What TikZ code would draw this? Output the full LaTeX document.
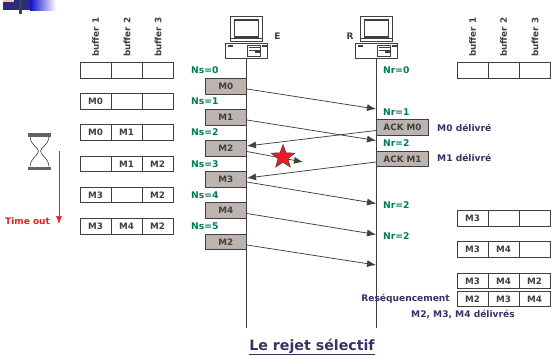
\documentclass[tikz,border=0pt]{standalone}
\usepackage{fontspec}
\setmainfont{DejaVu Sans}
\usetikzlibrary{arrows.meta,shapes.geometric}
\definecolor{ink}{HTML}{404040}
\definecolor{grn}{HTML}{007A55}
\definecolor{navy}{HTML}{333366}
\definecolor{rd}{HTML}{EE1C25}
\definecolor{msg}{HTML}{BDB3AF}
\tikzset{
  cell/.style={draw=ink,line width=.8pt,minimum width=31pt,minimum height=15.5pt,inner sep=0pt,text=ink,font=\bfseries\fontsize{8.8}{9}\selectfont},
  msgbox/.style={draw=ink,line width=.9pt,fill=msg,minimum width=41.5pt,minimum height=15.5pt,inner sep=0pt,text=ink,font=\bfseries\fontsize{8.8}{9}\selectfont},
  ackbox/.style={msgbox,minimum width=52pt},
  seq/.style={text=grn,font=\bfseries\fontsize{9.2}{9}\selectfont,anchor=west,inner sep=0pt},
  note/.style={text=navy,font=\bfseries\fontsize{9.1}{9}\selectfont,anchor=west,inner sep=0pt},
  buf/.style={rotate=90,anchor=west,text=ink,inner sep=0pt,font=\bfseries\fontsize{8.8}{9}\selectfont},
  msgarrow/.style={draw=ink,line width=.75pt,-{Latex[length=9pt,width=7pt]}},
  life/.style={draw=ink,line width=.75pt}
}
\newcommand{\bufrow}[6]{%
  \node[cell] (#1a) at (#2,#3) {#4};
  \node[cell] (#1b) at (#2+31,#3) {#5};
  \node[cell] (#1c) at (#2+62,#3) {#6};
}
\newcommand{\computer}[3]{%
  \begin{scope}[shift={(#2,#3)}]
    \draw[ink,line width=.7pt,fill=white] (-16,16) rectangle (16,41);
    \draw[ink,line width=1.3pt] (-12,20) rectangle (12,37);
    \draw[ink,line width=.6pt] (-16,38) -- (16,38);
    \draw[ink,line width=.6pt,fill=white] (-21,43.5) rectangle (21,58);
    \fill[ink] (-19,44.5) rectangle (-14,46.5);
    \fill[ink] (15,44.5) rectangle (20,46.5);
    \draw[ink,line width=.6pt] (1,45) rectangle (14,56);
    \draw[ink,line width=.8pt] (2,47) -- (13,47) (2,50) -- (13,50);
    \fill[ink] (8,50) rectangle (13,53);
    \node[inner sep=0pt] (#1) at (0,58) {};
  \end{scope}
}
\begin{document}
\begin{tikzpicture}[x=1pt,y=-1pt]
\useasboundingbox (0,0) rectangle (551,356);
% corner decoration
\fill[navy!85!blue] (3,0) rectangle (30,10);
\fill[pink] (3,0) rectangle (14,1.5);
\shade[left color=blue!70!navy,right color=white] (30,0) rectangle (56,10);
\fill[ink] (19,0) rectangle (22,14);
% buffer headers
\foreach \n/\x in {1/95.5,2/127,3/158}{
  \node[buf] (bl\n) at (\x,57) {buffer \n};
}
\foreach \n/\x in {1/472.5,2/503.5,3/535}{
  \node[buf] (br\n) at (\x,57) {buffer \n};
}
% left buffers
\bufrow{la}{95.5}{70.5}{}{}{}
\bufrow{lb}{95.5}{101.5}{M0}{}{}
\bufrow{lc}{95.5}{132.5}{M0}{M1}{}
\bufrow{ld}{95.5}{164}{}{M1}{M2}
\bufrow{le}{95.5}{195}{M3}{}{M2}
\bufrow{lf}{95.5}{226.5}{M3}{M4}{M2}
% right buffers
\bufrow{ra}{472.5}{70.5}{}{}{}
\bufrow{rb}{472.5}{218.5}{M3}{}{}
\bufrow{rc}{472.5}{249.5}{M3}{M4}{}
\bufrow{rd}{472.5}{281}{M3}{M4}{M2}
\bufrow{re}{472.5}{299}{M2}{M3}{M4}
% computers
\computer{pcE}{246.5}{0}
\computer{pcR}{376.5}{0}
\node[text=ink,font=\bfseries\fontsize{9}{9}\selectfont,inner sep=0pt] (E) at (277.5,36) {E};
\node[text=ink,font=\bfseries\fontsize{9}{9}\selectfont,inner sep=0pt] (R) at (350,36) {R};
% lifelines
\coordinate (Eend) at (246.5,328);
\coordinate (Rend) at (376.5,328);
\draw[life] (pcE) -- (Eend);
\draw[life] (pcR) -- (Rend);
% messages
\foreach \nm/\t/\y in {m0/M0/86.5,m1/M1/117.5,m2/M2/148.5,m3/M3/179.5,m4/M4/210.5,m5/M2/242}{
  \node[msgbox] (\nm) at (225.75,\y) {\t};
}
\node[ackbox] (ack0) at (402.5,127.5) {ACK M0};
\node[ackbox] (ack1) at (402.5,159) {ACK M1};
% sequence labels
\foreach \nm/\t/\y in {s0/Ns=0/70,s1/Ns=1/101,s2/Ns=2/132,s3/Ns=3/164,s4/Ns=4/195,s5/Ns=5/226}{
  \node[seq] (\nm) at (191,\y) {\t};
}
\foreach \nm/\t/\y in {r0/Nr=0/70,r1/Nr=1/112,r2/Nr=2/143,r3/Nr=2/205,r4/Nr=2/236}{
  \node[seq] (\nm) at (383,\y) {\t};
}
% end points
\coordinate (t0) at (376,109);
\coordinate (t1) at (376,140.5);
\coordinate (t2) at (303,162);
\coordinate (t3) at (376,203.5);
\coordinate (t4) at (376,234.5);
\coordinate (t5) at (376,265);
\coordinate (a0) at (247,146);
\coordinate (a1) at (247,178);
\draw[msgarrow] ([yshift=-2.5pt]m0.east) -- (t0);
\draw[msgarrow] ([yshift=-2.5pt]m1.east) -- (t1);
\draw[msgarrow] ([yshift=-3pt]m2.east) -- (t2);
\draw[msgarrow] ([yshift=-2.5pt]m3.east) -- (t3);
\draw[msgarrow] ([yshift=-3pt]m4.east) -- (t4);
\draw[msgarrow] ([yshift=-3pt]m5.east) -- (t5);
\draw[msgarrow] ([yshift=-3pt]ack0.west) -- (a0);
\draw[msgarrow] ([yshift=-3pt]ack1.west) -- (a1);
% star
\node[star,star points=5,star point ratio=2.4,fill=rd,draw=ink,line width=.5pt,minimum size=25pt,inner sep=0pt] (lost) at (283,157) {};
% notes
\node[note] (d0) at (437,127.5) {M0 délivré};
\node[note] (d1) at (437,158) {M1 délivré};
\node[note,anchor=east] (reseq) at (450,299) {Reséquencement};
\node[note] (del) at (411,314.5) {M2, M3, M4 délivrés};
% hourglass
\fill[ink!70!msg] (28,133) rectangle (51,136.5);
\fill[ink!70!msg] (28,166.5) rectangle (51,170);
\draw[ink,line width=.6pt] (30,136.5) .. controls (31,146) and (38,147) .. (38.5,151) .. controls (38,156) and (31,157) .. (30,166.5);
\draw[ink,line width=.6pt] (49,136.5) .. controls (48,146) and (41,147) .. (40.5,151) .. controls (41,156) and (48,157) .. (49,166.5);
% time out
\coordinate (tStart) at (59,151);
\coordinate (tEnd) at (59,224);
\draw[rd,line width=.6pt,-{Latex[length=8pt,width=6pt]}] (tStart) -- (tEnd);
\node[inner sep=0pt,anchor=west,text=rd,font=\bfseries\fontsize{9}{9}\selectfont] (to) at (5,221) {Time out};
% title
\node[inner sep=0pt,text=navy,font=\bfseries\fontsize{14.2}{14}\selectfont] (title) at (312,347) {\underline{Le rejet sélectif}};
\end{tikzpicture}
\end{document}
